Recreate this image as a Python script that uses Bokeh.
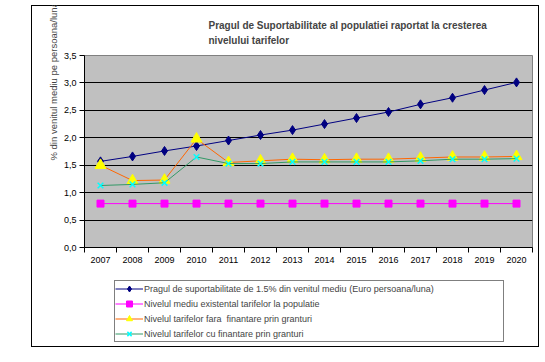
from bokeh.plotting import figure
from bokeh.models import (ColumnDataSource, Range1d, FixedTicker, CustomJSTickFormatter,
                          Legend, LegendItem, Title, Spacer)
from bokeh.layouts import row, column
from bokeh.embed import file_html
from bokeh.resources import INLINE

# ---- data ----
years = ["2007", "2008", "2009", "2010", "2011", "2012", "2013",
         "2014", "2015", "2016", "2017", "2018", "2019", "2020"]
prag = [1.57, 1.66, 1.76, 1.85, 1.95, 2.05, 2.14, 2.25, 2.36, 2.47, 2.61, 2.73, 2.87, 3.01]
nivel_mediu = [0.80, 0.80, 0.80, 0.80, 0.80, 0.80, 0.80, 0.80, 0.80, 0.80, 0.80, 0.80, 0.80, 0.80]
fara_granturi = [1.50, 1.22, 1.23, 1.98, 1.55, 1.58, 1.61, 1.60, 1.61, 1.61, 1.63, 1.65, 1.65, 1.66]
cu_granturi = [1.13, 1.15, 1.18, 1.65, 1.53, 1.53, 1.56, 1.56, 1.56, 1.56, 1.58, 1.61, 1.61, 1.62]
y_ticks = [0.0, 0.5, 1.0, 1.5, 2.0, 2.5, 3.0, 3.5]

labels = [
    "Pragul de suportabilitate de 1.5% din venitul mediu (Euro persoana/luna)",
    "Nivelul mediu existental tarifelor la populatie",
    "Nivelul tarifelor fara  finantare prin granturi",
    "Nivelul tarifelor cu finantare prin granturi",
]
title_text = "Pragul de Suportabilitate al populatiei raportat la cresterea\nnivelului tarifelor"
y_label = "% din venitul mediu pe  persoana/luna"

FONT = "'Liberation Sans', Arial, sans-serif"

x = [i + 0.5 for i in range(len(years))]
src = ColumnDataSource(dict(x=x, prag=prag, nivel=nivel_mediu, fara=fara_granturi, cu=cu_granturi))

STYLES = [
    dict(col="prag", line="#000080", marker="diamond", size=9, fill="#000080", edge="#000080", lw=1),
    dict(col="nivel", line="#FF00FF", marker="square", size=7, fill="#FF00FF", edge="#FF00FF", lw=1),
    dict(col="fara", line="#FF6600", marker="triangle", size=11, fill="#FFFF00", edge="#FFFF00", lw=1),
    dict(col="cu", line="#339966", marker="x", size=8, fill=None, edge="#00FFFF", lw=1.5),
]


def add_series(fig):
    out = []
    for s in STYLES:
        ln = fig.line("x", s["col"], source=src, line_color=s["line"], line_width=1)
        mk = fig.scatter("x", s["col"], source=src, marker=s["marker"], size=s["size"],
                         fill_color=s["fill"], line_color=s["edge"], line_width=s["lw"])
        out.append((ln, mk))
    return out


# ---------------- main chart ----------------
p = figure(width=508, height=265, output_backend="svg", toolbar_location=None,
           x_range=Range1d(0, len(years)), y_range=Range1d(0, 3.5),
           min_border_left=53, min_border_right=7, min_border_top=50, min_border_bottom=23)
p.background_fill_color = "#C0C0C0"
p.border_fill_alpha = 0
p.outline_line_color = "#808080"
p.outline_line_width = 1

p.xaxis.ticker = FixedTicker(ticks=x, minor_ticks=list(range(len(years) + 1)))
p.xaxis.formatter = CustomJSTickFormatter(args=dict(years=years),
                                          code="return years[Math.floor(tick)];")
p.xaxis.major_tick_line_color = None
p.xaxis.major_tick_out = 4
p.xaxis.major_label_standoff = 4
p.xaxis.minor_tick_out = 5
p.xaxis.minor_tick_in = 0
p.xaxis.minor_tick_line_color = "black"
p.xaxis.axis_line_color = "black"

p.yaxis.ticker = FixedTicker(ticks=y_ticks)
p.yaxis.formatter = CustomJSTickFormatter(code="return tick.toFixed(1).replace('.', ',');")
p.yaxis.major_tick_out = 5
p.yaxis.major_tick_in = 0
p.yaxis.minor_tick_line_color = None
p.yaxis.major_label_standoff = 3
p.yaxis.axis_line_color = "black"

for ax in (p.xaxis[0], p.yaxis[0]):
    ax.major_label_text_font = FONT
    ax.major_label_text_font_size = "9px"
    ax.major_label_text_color = "black"

p.xgrid.visible = False
p.ygrid.ticker = FixedTicker(ticks=y_ticks[1:-1])
p.ygrid.grid_line_color = "black"
p.ygrid.grid_line_width = 1

add_series(p)

p.title = Title(text=title_text, align="left", offset=124, text_font=FONT,
                text_font_size="10px", text_font_style="bold", text_line_height=1.4,
                standoff=19)
p.add_layout(Title(text=y_label, align="left", offset=87, text_font=FONT,
                   text_font_size="9.5px", text_font_style="normal", standoff=4), "left")

# ---------------- legend strip (same series, drawn outside its view range) ----------------
lf = figure(width=508, height=77, output_backend="svg", toolbar_location=None,
            x_range=Range1d(-10, -9), y_range=Range1d(0, 1),
            min_border_left=0, min_border_right=0, min_border_top=0, min_border_bottom=0)
lf.axis.visible = False
lf.grid.visible = False
lf.outline_line_color = None
lf.background_fill_alpha = 0
lf.border_fill_alpha = 0
pairs = add_series(lf)

legend = Legend(items=[LegendItem(label=lab, renderers=list(pr)) for lab, pr in zip(labels, pairs)],
                location=(30, 5))
legend.border_line_color = "black"
legend.border_line_width = 1
legend.background_fill_color = "white"
legend.background_fill_alpha = 1
legend.label_text_font = FONT
legend.label_text_font_size = "9px"
legend.glyph_width = 28
legend.glyph_height = 15
legend.label_height = 15
legend.label_standoff = 1
legend.label_width = 359
legend.spacing = 0
legend.padding = 0
legend.margin = 0
lf.add_layout(legend, "center")

inner = column(p, lf, styles={"box-shadow": "inset 0 0 0 1px black"})
layout = column(Spacer(height=5), row(Spacer(width=31), inner))
open("out.html", "w").write(file_html(layout, INLINE))
